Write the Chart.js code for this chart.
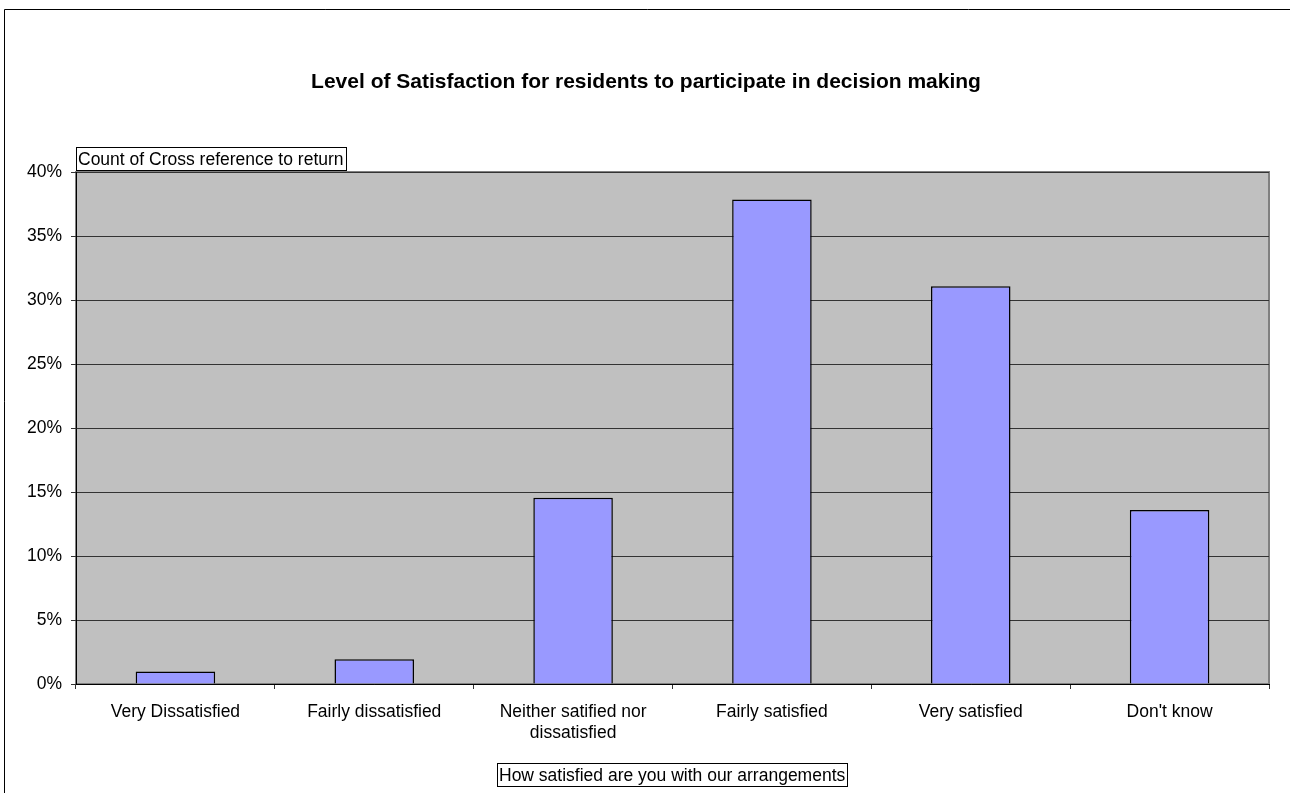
<!DOCTYPE html>
<html>
<head>
<meta charset="utf-8">
<script src="https://cdn.jsdelivr.net/npm/chart.js@4.4.1/dist/chart.umd.min.js"></script>
<style>
  html, body { margin: 0; padding: 0; background: #fff; }
  #wrap { width: 1290px; height: 793px; position: relative; }
</style>
</head>
<body>
<div id="wrap"><canvas id="chart" width="1290" height="793"></canvas></div>
<script>
// Survey responses: share of returns for each answer (percent)
const categories = [
  'Very Dissatisfied',
  'Fairly dissatisfied',
  ['Neither satified nor', 'dissatisfied'],
  'Fairly satisfied',
  'Very satisfied',
  "Don't know"
];
const shareOfReturns = [0.97, 1.94, 14.56, 37.86, 31.07, 13.59];
const yTicks = [0, 5, 10, 15, 20, 25, 30, 35, 40];

const chartTitle = 'Level of Satisfaction for residents to participate in decision making';
const yAxisTitle = 'Count of Cross reference to return';
const xAxisTitle = 'How satisfied are you with our arrangements';

const FONT = '"Liberation Sans", Arial, sans-serif';
const TEXT_SIZE = 17.5;

function boxedText(ctx, text, x, y, align) {
  ctx.font = TEXT_SIZE + 'px ' + FONT;
  const w = ctx.measureText(text).width;
  const padX = 2, h = 23;
  const left = align === 'center' ? Math.round(x - w / 2 - padX) : x;
  const boxW = Math.round(w + padX * 2);
  ctx.fillStyle = '#fff';
  ctx.fillRect(left, y, boxW, h);
  ctx.strokeStyle = '#000';
  ctx.lineWidth = 1;
  ctx.strokeRect(left + 0.5, y + 0.5, boxW, h);
  ctx.fillStyle = '#000';
  ctx.textAlign = 'left';
  ctx.textBaseline = 'alphabetic';
  ctx.fillText(text, left + padX, y + 17.5);
}

const frame = {
  id: 'frame',
  beforeDraw(chart) {
    const { ctx, chartArea: a } = chart;
    ctx.save();
    ctx.fillStyle = '#fff';
    ctx.fillRect(0, 0, chart.width, chart.height);
    // chart border
    ctx.strokeStyle = '#000';
    ctx.lineWidth = 1;
    ctx.beginPath();
    ctx.moveTo(4.5, chart.height);
    ctx.lineTo(4.5, 9.5);
    ctx.lineTo(chart.width, 9.5);
    ctx.stroke();
    // plot area
    ctx.fillStyle = '#C0C0C0';
    ctx.fillRect(a.left, a.top, a.right - a.left, a.bottom - a.top);
    ctx.strokeStyle = '#808080';
    ctx.lineWidth = 2;
    ctx.strokeRect(a.left, a.top, a.right - a.left, a.bottom - a.top);
    ctx.restore();
  },
  afterDraw(chart) {
    const { ctx, chartArea: a } = chart;
    ctx.save();
    ctx.font = 'bold 21px ' + FONT;
    ctx.fillStyle = '#000';
    ctx.textAlign = 'center';
    ctx.textBaseline = 'alphabetic';
    ctx.fillText(chartTitle, 646, 88);
    boxedText(ctx, yAxisTitle, a.left, 147, 'left');
    boxedText(ctx, xAxisTitle, (a.left + a.right) / 2, 763, 'center');
    ctx.restore();
  }
};

new Chart(document.getElementById('chart'), {
  type: 'bar',
  data: {
    labels: categories,
    datasets: [{
      data: shareOfReturns,
      backgroundColor: '#9999FF',
      borderColor: '#000',
      borderWidth: 1.5,
      barPercentage: 0.4,
      categoryPercentage: 1
    }]
  },
  options: {
    responsive: false,
    animation: false,
    devicePixelRatio: 1,
    layout: { padding: { left: 0, top: 172, right: 21, bottom: 49 } },
    plugins: { legend: { display: false }, tooltip: { enabled: false }, title: { display: false } },
    scales: {
      x: {
        afterFit(s) { s.height = 60; },
        grid: { display: true, drawOnChartArea: false, drawTicks: true, tickLength: 5, color: '#333', offset: true },
        border: { display: true, color: '#000', width: 1 },
        ticks: { color: '#000', font: { family: FONT, size: TEXT_SIZE, lineHeight: 1.22 }, padding: 12, maxRotation: 0, autoSkip: false }
      },
      y: {
        min: 0,
        max: 40,
        afterFit(s) { s.width = 76; },
        afterBuildTicks(s) { s.ticks = yTicks.map(v => ({ value: v })); },
        grid: { color: '#333', lineWidth: 1, drawTicks: true, tickLength: 5 },
        border: { display: true, color: '#000', width: 1 },
        ticks: { color: '#000', font: { family: FONT, size: TEXT_SIZE }, padding: 9, callback: v => v + '%' }
      }
    }
  },
  plugins: [frame]
});
</script>
</body>
</html>
